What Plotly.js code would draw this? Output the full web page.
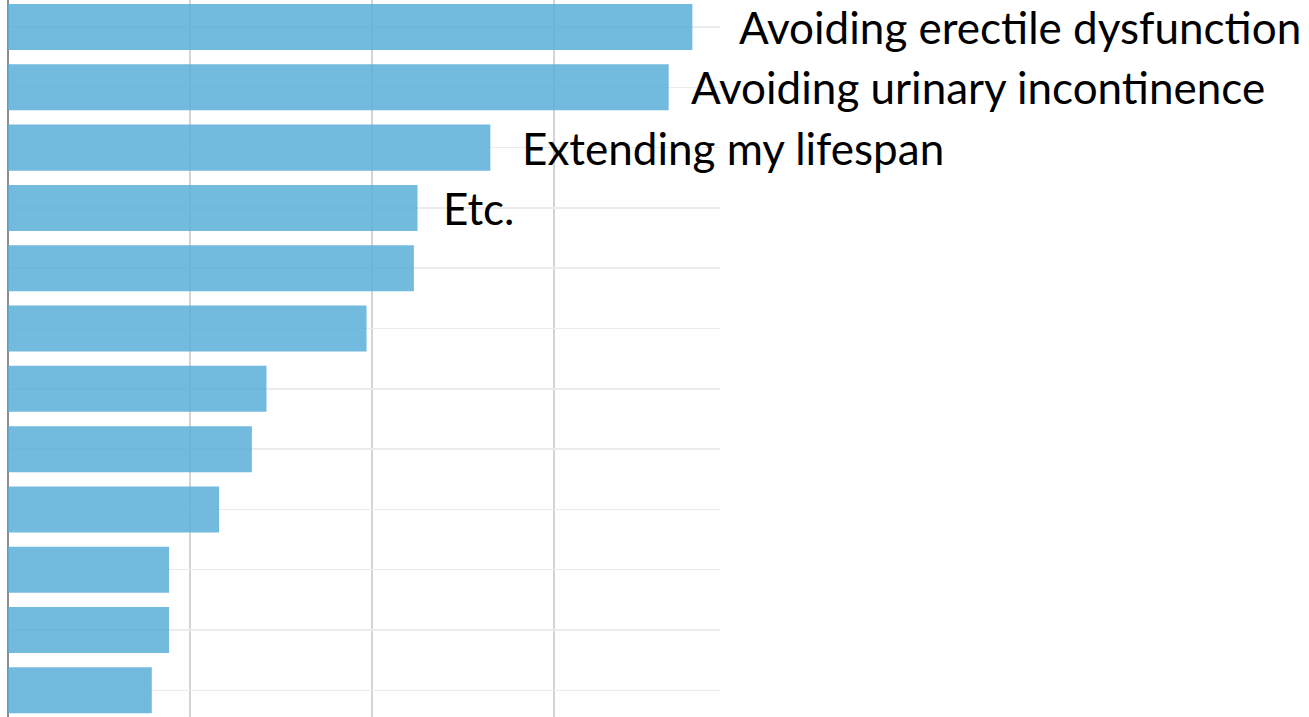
<!DOCTYPE html>
<html>
<head>
<meta charset="utf-8">
<script src="https://cdn.plot.ly/plotly-3.0.1.min.js"></script>
<style>
html,body{margin:0;padding:0;background:#fff;}
#chart{width:1309px;height:717px;}
</style>
</head>
<body>
<div id="chart"></div>
<script>
// Data
const categories = [
  "Avoiding erectile dysfunction",
  "Avoiding urinary incontinence",
  "Extending my lifespan",
  "Etc.",
  "Item 5", "Item 6", "Item 7", "Item 8", "Item 9", "Item 10", "Item 11", "Item 12"
];
const values = [3.76, 3.63, 2.65, 2.25, 2.23, 1.97, 1.42, 1.34, 1.16, 0.885, 0.885, 0.79];
const shownLabels = [
  "Avoiding erectile dysfunction",
  "Avoiding urinary incontinence",
  "Extending my lifespan",
  "Etc."
];
// label offsets from bar end (px) - style only
const labelShift = [45, 20, 30, 23];

const trace = {
  type: 'bar',
  orientation: 'h',
  x: values,
  y: categories,
  marker: {color: 'rgb(91,175,216)', opacity: 0.86, line: {width: 0}},
  hoverinfo: 'x+y'
};

const annotations = shownLabels.map((t, i) => ({
  x: values[i],
  y: categories[i],
  xref: 'x', yref: 'y',
  text: t,
  showarrow: false,
  xanchor: 'left',
  yanchor: 'middle',
  xshift: labelShift[i],
  yshift: 0,
  font: {family: 'Lato, "Open Sans", sans-serif', size: 44, color: '#000'}
}));

const layout = {
  width: 1309,
  height: 717,
  margin: {l: 8, r: 589, t: 0, b: 0, pad: 0},
  paper_bgcolor: '#fff',
  plot_bgcolor: '#fff',
  showlegend: false,
  bargap: 0.237,
  xaxis: {
    range: [0, 3.912],
    dtick: 1,
    tick0: 0,
    showticklabels: false,
    ticks: '',
    showgrid: true,
    gridcolor: '#d4d4d4',
    gridwidth: 1.5,
    zeroline: true,
    zerolinecolor: '#8c8c8c',
    zerolinewidth: 2,
    showline: false,
    fixedrange: true
  },
  yaxis: {
    type: 'category',
    categoryorder: 'array',
    categoryarray: categories,
    range: [11.442, -0.448],
    showticklabels: false,
    ticks: '',
    showgrid: true,
    gridcolor: '#ebebeb',
    gridwidth: 1.5,
    zeroline: false,
    showline: false,
    fixedrange: true
  },
  annotations: annotations
};

Plotly.newPlot('chart', [trace], layout, {displayModeBar: false, staticPlot: true});
</script>
</body>
</html>
